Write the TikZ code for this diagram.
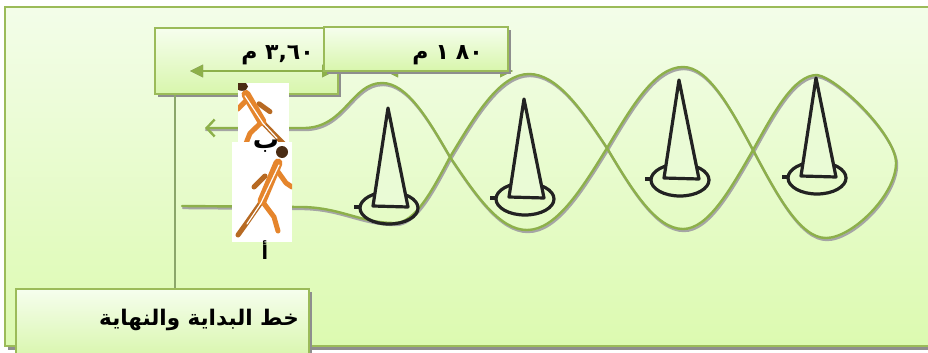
\documentclass[tikz,border=0pt]{standalone}
\usepackage{fontspec}
\usetikzlibrary{arrows.meta,shadows}
\TeXXeTstate=1
\newfontfamily\arabicfont[Script=Arabic]{DejaVu Sans}
\definecolor{leaf}{HTML}{8DB04A}
\definecolor{boxedge}{HTML}{9BBB59}
\definecolor{palehi}{HTML}{F3FDE9}
\definecolor{palelo}{HTML}{DCFAB0}
\definecolor{panelhi}{HTML}{F6FEEE}
\definecolor{panello}{HTML}{D8F6AC}
\definecolor{shadowgray}{HTML}{8E8E8E}
\definecolor{stemline}{HTML}{8BA66A}
\definecolor{skin}{HTML}{E5852C}
\definecolor{hair}{HTML}{4A2C14}
\definecolor{conefill}{HTML}{EAFBD6}
\definecolor{coneink}{HTML}{222222}

\tikzset{
  panel/.style={draw=boxedge, line width=1.6pt, top color=panelhi, bottom color=panello,
    general shadow={shadow xshift=3pt, shadow yshift=-3pt, fill=shadowgray}, inner sep=0pt},
  route/.style={draw=leaf, line width=2.4pt, line cap=round, line join=round},
  routeshade/.style={draw=shadowgray!80, line width=2.4pt, line cap=round, line join=round},
  dimline/.style={leaf, line width=2.6pt, {Triangle[length=13pt,width=12pt]}-{Triangle[length=13pt,width=12pt]}},
  dimshade/.style={shadowgray, line width=2.6pt, {Triangle[length=13pt,width=12pt]}-{Triangle[length=13pt,width=12pt]}},
  startline/.style={draw=stemline, line width=1.6pt},
  lbl/.style={font=\arabicfont\bfseries\fontsize{22}{24}\selectfont, text=black, inner sep=0pt},
  limb/.style={draw=skin, line width=5pt, line cap=round, line join=round},
  coneink/.style={draw=coneink, line width=3.2pt, line join=round},
  runner/.pic={
    % a runner in orange, drawn limb by limb
    \draw[limb, draw=skin!80!black] (30,58) -- (16,78) -- (6,92);
    \draw[limb, draw=skin!80!black] (33,33) -- (22,44);
    \draw[limb, line width=9pt] (46,20) -- (30,58);
    \draw[limb] (30,58) -- (42,74) -- (46,88);
    \draw[limb] (44,26) -- (54,40) -- (60,44);
    \draw[white, line width=1.2pt, line cap=round] (47,22) -- (29,60) -- (15,81);
    \fill[hair] (50,9) circle (6);
  },
  cone/.pic={
    % traffic cone: ring at the base, tall triangle on top
    \draw[coneink] (-29,-1) -- (-35,-1);
    \draw[coneink] (0,0) ellipse [x radius=29, y radius=16];
    \filldraw[coneink, fill=conefill] (-1,-100) -- (-16,-2) -- (19,-1) -- cycle;
  }
}

% the slalom: out under/over the cones, round the last one, and back
\def\routepath{(182,206) -- (300,207)
  .. controls (340,207) and (360,223) .. (395,223)
  .. controls (415,223) and (432,191) .. (450,157)
  .. controls (476,114) and (500,74) .. (529,74)
  .. controls (557,74) and (582,110) .. (607,148)
  .. controls (632,190) and (656,229) .. (683,229)
  .. controls (708,229) and (730,190) .. (753,150)
  .. controls (774,112) and (794,75) .. (817,75)
  .. controls (838,78) and (896,135) .. (896,163)
  .. controls (896,195) and (852,238) .. (826,238)
  .. controls (800,238) and (777,195) .. (753,150)
  .. controls (730,107) and (708,67) .. (683,67)
  .. controls (655,67) and (632,106) .. (607,148)
  .. controls (581,190) and (556,230) .. (527,230)
  .. controls (499,230) and (475,194) .. (450,157)
  .. controls (428,119) and (407,83) .. (382,83)
  .. controls (352,83) and (345,127) .. (305,128)
  -- (205,128)}

\begin{document}
\begin{tikzpicture}[x=1pt, y=-1pt]
\useasboundingbox (0,0) rectangle (928,353);
\fill[white] (0,0) rectangle (928,353);

% outer frame with its shadow
\fill[shadowgray] (8,10) rectangle (940,350);
\shade[top color=palehi, bottom color=palelo, draw=boxedge, line width=1.5pt] (5,7) rectangle (937,346);

% start / finish line
\coordinate (start) at (175,0);
\node[panel, minimum width=293pt, minimum height=70pt, anchor=north west] (finish) at (15,288) {};
\node[panel, minimum width=183pt, minimum height=66pt, anchor=north west] (box36) at (154,27) {};
\draw[startline] (box36.south -| start) -- (finish.north -| start);

% distance arrows
\coordinate (d1a) at (190,71);
\coordinate (d1b) at (335,71);
\coordinate (d2a) at (385,71);
\coordinate (d2b) at (513,71);
\begin{scope}[shift={(2,3)}]
  \draw[dimshade] (d1a) -- (d1b);
  \draw[dimshade] (d2a) -- (d2b);
\end{scope}
\draw[dimline] (d1a) -- (d1b);
\draw[dimline] (d2a) -- (d2b);
\node[panel, minimum width=184pt, minimum height=44pt, anchor=north west] (box18) at (323,26) {};

\node[lbl, anchor=east] (len36) at (314,55) {\beginR ٣,٦٠ م\endR};
\node[lbl, anchor=east] (len18) at (483,55) {\beginR ٨٠\hspace{7pt}١\hspace{7pt}م\endR};
\node[lbl, font=\arabicfont\bfseries\fontsize{21.5}{24}\selectfont, anchor=east] (finishtext) at (299,320) {\beginR خط البداية والنهاية\endR};

% weaving route around the cones
\begin{scope}[shift={(1,2)}]
  \draw[routeshade] \routepath;
\end{scope}
\draw[route, -{Straight Barb[length=8pt,width=17pt,line width=2.4pt]}] \routepath;

% cones
\pic at (389,208) {cone};
\pic at (525,199) {cone};
\pic at (680,180) {cone};
\pic at (817,178) {cone};

% runners
\begin{scope}
  \fill[white] (238,83) rectangle (289,145);
  \clip (238,83) rectangle (289,145);
  \pic[xscale=-1, yscale=0.72] at (292,80) {runner};
\end{scope}
\begin{scope}
  \fill[white] (232,142) rectangle (292,242);
  \clip (232,142) rectangle (292,242);
  \pic at (232,143) {runner};
\end{scope}

\node[lbl, font=\arabicfont\bfseries\fontsize{26}{28}\selectfont] (pointb) at (266,146) {ب};
\node[lbl, font=\arabicfont\bfseries\fontsize{19}{20}\selectfont] (pointa) at (265,250) {أ};
\end{tikzpicture}
\end{document}
